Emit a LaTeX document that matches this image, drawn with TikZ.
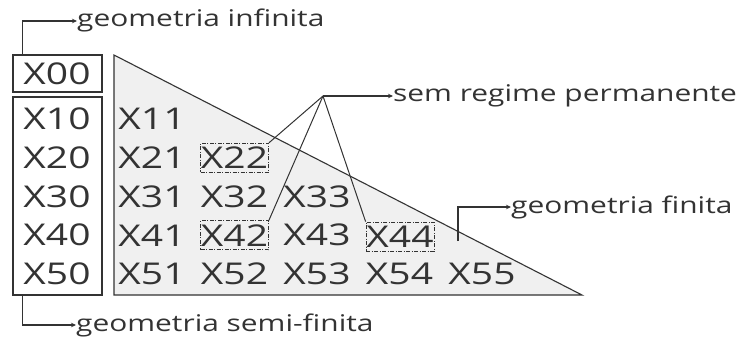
\documentclass[tikz,border=0pt]{standalone}
\usepackage{fontspec}
\setmainfont[FakeStretch=1.3]{Open Sans}
\newfontfamily\labfont[FakeStretch=1.3]{Open Sans}
\usetikzlibrary{arrows.meta}
\definecolor{ink}{HTML}{333333}
\definecolor{trifill}{HTML}{F0F0F0}
\tikzset{
  lab/.style={font=\labfont\fontsize{30}{30}\selectfont, text=ink, inner sep=0pt},
  txt/.style={font=\fontsize{23}{23}\selectfont, text=ink, inner sep=0pt, anchor=base west},
  frame/.style={draw=ink, line width=1.1pt, inner sep=0pt},
  dbox/.style={lab, draw=ink, line width=0.8pt, minimum width=68pt, minimum height=29pt,
    dash pattern=on 4pt off 1.5pt on 1pt off 1.5pt},
  conn/.style={draw=ink, line width=1.1pt, -{Stealth[length=5pt,width=4.5pt]}},
  link/.style={draw=ink, line width=1pt}
}
\begin{document}
\begin{tikzpicture}[x=1pt, y=-1pt]
\useasboundingbox (0,0) rectangle (737,345);

% triangular region of the finite-geometry cases
\filldraw[fill=trifill, draw=ink, line width=1.1pt] (114,55) -- (114,295) -- (582,295) -- cycle;

% left column frames
\node[frame, minimum width=89pt, minimum height=37pt] (b0) at (57.5,73.5) {};
\node[frame, minimum width=89pt, minimum height=198pt] (b1) at (57.5,196) {};

% first column
\node[lab] (x00) at (57,74) {X00};
\node[lab] (x10) at (57,119) {X10};
\node[lab] (x20) at (57,157.75) {X20};
\node[lab] (x30) at (57,196.5) {X30};
\node[lab] (x40) at (57,235.25) {X40};
\node[lab] (x50) at (57,274) {X50};

% triangle entries
\node[lab] (x11) at (152,119) {X11};
\node[lab] (x21) at (152,157.75) {X21};
\node[dbox] (x22) at (234.5,157.75) {X22};
\node[lab] (x31) at (152,196.5) {X31};
\node[lab] (x32) at (234.5,196.5) {X32};
\node[lab] (x33) at (317,196.5) {X33};
\node[lab] (x41) at (152,235.25) {X41};
\node[dbox] (x42) at (234.5,235.25) {X42};
\node[lab] (x43) at (317,235.25) {X43};
\node[dbox] (x44) at (400,236.5) {X44};
\node[lab] (x51) at (152,274) {X51};
\node[lab] (x52) at (234.5,274) {X52};
\node[lab] (x53) at (317,274) {X53};
\node[lab] (x54) at (399.5,274) {X54};
\node[lab] (x55) at (482,274) {X55};

% captions
\node[txt] (tinf) at (77,27) {geometria infinita};
\node[txt] (tsemi) at (76,331) {geometria semi-finita};
\node[txt] (tperm) at (393,102) {sem regime permanente};
\node[txt] (tfin) at (511,213) {geometria finita};

% connector anchors
\coordinate (i0) at ([xshift=10pt]b0.north west);
\coordinate (s0) at ([xshift=10pt]b1.south west);
\coordinate (apex) at (323,96);
\coordinate (f0) at (458,241);

% connectors
\draw[conn] (i0) |- ([yshift=6pt]tinf.base west);
\draw[conn] (s0) |- ([yshift=6pt]tsemi.base west);
\draw[conn] (f0) |- ([yshift=6pt]tfin.base west);
\draw[conn] (apex) -- ([yshift=6pt]tperm.base west);
\draw[link] (apex) -- (x22.north east);
\draw[link] (apex) -- (x42.north east);
\draw[link] (apex) -- (x44.north west);
\end{tikzpicture}
\end{document}
